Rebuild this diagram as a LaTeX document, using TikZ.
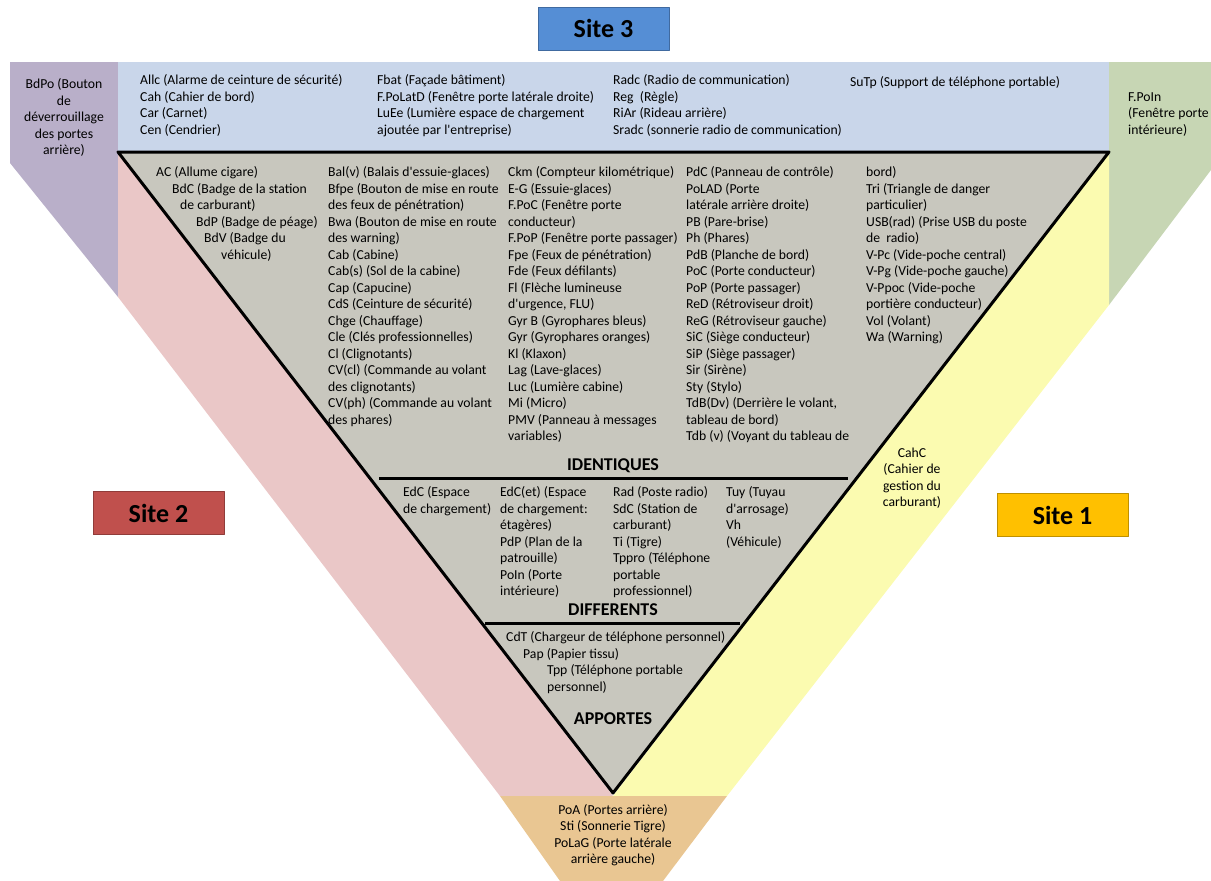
\documentclass[tikz,border=0pt]{standalone}
\usepackage{fontspec}
\setmainfont{Carlito}
\usetikzlibrary{positioning}
\definecolor{bandblue}{RGB}{201,214,234}
\definecolor{purpleb}{RGB}{185,175,201}
\definecolor{pinkb}{RGB}{234,199,199}
\definecolor{yellowb}{RGB}{251,251,176}
\definecolor{greenb}{RGB}{199,214,180}
\definecolor{grayt}{RGB}{200,199,190}
\definecolor{orangeb}{RGB}{233,198,146}
\definecolor{site3}{RGB}{85,142,213}
\definecolor{site2}{RGB}{192,80,77}
\definecolor{site1}{RGB}{255,192,0}
\newcommand{\apos}{\textquotesingle}
\tikzset{every picture/.style={line cap=round, line join=round}}
\tikzset{sitebox/.style={draw=#1!75!black, fill=#1, rectangle,
  minimum width=131pt, minimum height=43pt, inner sep=0pt,
  font=\fontsize{26}{30}\selectfont\bfseries}}
\tikzset{txt/.style={anchor=north west, inner sep=0pt, align=left,
  font=\fontsize{13.7}{16.5}\selectfont, execute at begin node=\strut}}
\tikzset{ctxt/.style={txt, anchor=north, align=center}}
\tikzset{head/.style={anchor=base, inner sep=0pt, font=\fontsize{18}{21}\selectfont\bfseries}}
\tikzset{sep/.style={draw, line width=3pt, line cap=butt}}
\tikzset{tri/.style={draw, fill=grayt, line width=3pt}}

\begin{document}
\begin{tikzpicture}[x=1pt,y=-1pt]
  \useasboundingbox (0,0) rectangle (1211,881);
  % bands
  \fill[purpleb] (10,62) -- (118,62) -- (118,297) -- (10,163) -- cycle;
  \fill[greenb] (1109,62) -- (1211,62) -- (1211,170) -- (1109,305) -- cycle;
  \fill[bandblue] (118,62) rectangle (1109,152);
  \fill[pinkb] (118,152) -- (118,297) -- (500,796) -- (613,796) -- cycle;
  \fill[yellowb] (1109,152) -- (1109,305) -- (727,796) -- (613,796) -- cycle;
  \fill[orangeb] (500,796) -- (727,796) -- (663,881) -- (560,881) -- cycle;

  % triangle
  \coordinate (tl) at (118,152);
  \coordinate (tr) at (1109,152);
  \coordinate (apex) at (613,793);
  \draw[tri] (tl) -- (tr) -- (apex) -- cycle;

  % sites
  \node[sitebox=site3] (site3) at (603.5,28.5) {Site 3};
  \node[sitebox=site2] (site2) at (158.5,513) {Site 2};
  \node[sitebox=site1] (site1) at (1062.5,515) {Site 1};

  % site 3 only
  \node[txt] (topA) at (140,74.5) {Allc (Alarme de ceinture de sécurité)\\Cah (Cahier de bord)\\Car (Carnet)\\Cen (Cendrier)};
  \node[txt] (topB) at (377,74.5) {Fbat (Façade bâtiment)\\F.PoLatD (Fenêtre porte latérale droite)\\LuEe (Lumière espace de chargement\\ajoutée par l\apos entreprise)};
  \node[txt] (topC) at (613,74.5) {Radc (Radio de communication)\\Reg\ \ (Règle)\\RiAr (Rideau arrière)\\Sradc (sonnerie radio de communication)};
  \node[txt] (topD) at (850,74.5) {SuTp (Support de téléphone portable)};
  \node[ctxt] (bdpo) at (64,78.5) {BdPo (Bouton\\de\\déverrouillage\\des portes\\arrière)};
  \node[txt] (fpoin) at (1128,92.5) {F.PoIn\\(Fenêtre porte\\intérieure)};
  \node[ctxt] (cahc) at (912,447.5) {CahC\\(Cahier de\\gestion du\\carburant)};
  \node[ctxt] (poa) at (613,804) {PoA (Portes arrière)\\Sti (Sonnerie Tigre)\\PoLaG (Porte latérale\\arrière gauche)};

  % identiques
  \node[txt] (colA) at (156,166.5) {AC (Allume cigare)\\\hspace*{16pt}BdC (Badge de la station\\\hspace*{24pt}de carburant)\\\hspace*{40pt}BdP (Badge de péage)\\\hspace*{48pt}BdV (Badge du\\\hspace*{65pt}véhicule)};
  \node[txt] (colB) at (328,166.5) {Bal(v) (Balais d\apos essuie-glaces)\\Bfpe (Bouton de mise en route\\des feux de pénétration)\\Bwa (Bouton de mise en route\\des warning)\\Cab (Cabine)\\Cab(s) (Sol de la cabine)\\Cap (Capucine)\\CdS (Ceinture de sécurité)\\Chge (Chauffage)\\Cle (Clés professionnelles)\\Cl (Clignotants)\\CV(cl) (Commande au volant\\des clignotants)\\CV(ph) (Commande au volant\\des phares)};
  \node[txt] (colC) at (508,166.5) {Ckm (Compteur kilométrique)\\E-G (Essuie-glaces)\\F.PoC (Fenêtre porte\\conducteur)\\F.PoP (Fenêtre porte passager)\\Fpe (Feux de pénétration)\\Fde (Feux défilants)\\Fl (Flèche lumineuse\\d\apos urgence, FLU)\\Gyr B (Gyrophares bleus)\\Gyr (Gyrophares oranges)\\Kl (Klaxon)\\Lag (Lave-glaces)\\Luc (Lumière cabine)\\Mi (Micro)\\PMV (Panneau à messages\\variables)};
  \node[txt] (colD) at (686,166.5) {PdC (Panneau de contrôle)\\PoLAD (Porte\\latérale arrière droite)\\PB (Pare-brise)\\Ph (Phares)\\PdB (Planche de bord)\\PoC (Porte conducteur)\\PoP (Porte passager)\\ReD (Rétroviseur droit)\\ReG (Rétroviseur gauche)\\SiC (Siège conducteur)\\SiP (Siège passager)\\Sir (Sirène)\\Sty (Stylo)\\TdB(Dv) (Derrière le volant,\\tableau de bord)\\Tdb (v) (Voyant du tableau de};
  \node[txt] (colE) at (866,166.5) {bord)\\Tri (Triangle de danger\\particulier)\\USB(rad) (Prise USB du poste\\de\ \ radio)\\V-Pc (Vide-poche central)\\V-Pg (Vide-poche gauche)\\V-Ppoc (Vide-poche\\portière conducteur)\\Vol (Volant)\\Wa (Warning)};
  \node[head] (ident) at (613,470) {IDENTIQUES};
  \draw[sep] (379,478) -- (848,478);

  % differents
  \node[txt] (difA) at (403,486.5) {EdC (Espace\\de chargement)};
  \node[txt] (difB) at (500,486.5) {EdC(et) (Espace\\de chargement:\\étagères)\\PdP (Plan de la\\patrouille)\\PoIn (Porte\\intérieure)};
  \node[txt] (difC) at (613,486.5) {Rad (Poste radio)\\SdC (Station de\\carburant)\\Ti (Tigre)\\Tppro (Téléphone\\portable\\professionnel)};
  \node[txt] (difD) at (726,486.5) {Tuy (Tuyau\\d\apos arrosage)\\Vh\\(Véhicule)};
  \node[head] (diff) at (613,615) {DIFFERENTS};
  \draw[sep] (485,623) -- (740,623);

  % apportes
  \node[txt] (app) at (506,631.5) {CdT (Chargeur de téléphone personnel)\\\hspace*{17pt}Pap (Papier tissu)\\\hspace*{41pt}Tpp (Téléphone portable\\\hspace*{41pt}personnel)};
  \node[head] (appo) at (613,724) {APPORTES};
\end{tikzpicture}
\end{document}
